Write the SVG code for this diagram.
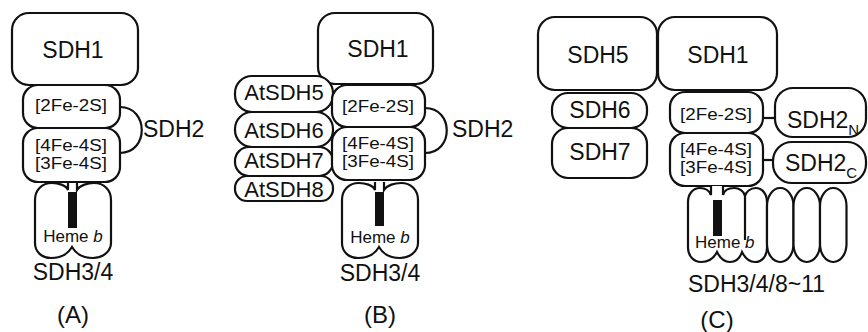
<svg xmlns="http://www.w3.org/2000/svg" width="868" height="332" viewBox="0 0 868 332">
  <defs>
    <style>
      .box { fill: #fff; stroke: #111; stroke-width: 2.2; }
      .line { fill: none; stroke: #111; stroke-width: 2.2; }
      .rod { fill: #111; }
      text { font-family: "Liberation Sans", Arial, sans-serif; fill: #111; }
      .big { font-size: 23px; }
      .mid { font-size: 22px; }
      .fes { font-size: 16px; }
      .heme { font-size: 17px; }
      .cap { font-size: 24px; }
    </style>
    <!-- two-lobed membrane anchor (SDH3/4) with the heme channel on top -->
    <path id="anchor2" d="M 68 182 L 68 190 C 66 185 58 183 52 183 C 42 183 35 190 35 200 L 35 243 C 35 252 42 258 51 258 C 60 258 68 254 72 247 C 76 254 84 258 93 258 C 102 258 111 252 111 243 L 111 200 C 111 190 104 183 94 183 C 88 183 80 185 77 190 L 77 182"/>
  </defs>

  <!-- ===== Panel A ===== -->
  <g id="a-sdh1">
    <rect class="box" x="12" y="13" width="126" height="72" rx="17"/>
    <text class="big" x="73" y="58" text-anchor="middle">SDH1</text>
  </g>
  <g id="a-sdh34">
    <use href="#anchor2" class="box"/>
    <rect class="rod" x="68" y="192" width="9" height="36"/>
    <text class="heme" x="73" y="242" text-anchor="middle">Heme <tspan font-style="italic">b</tspan></text>
    <text class="big" x="73" y="280" text-anchor="middle">SDH3/4</text>
  </g>
  <g id="a-fe2s2">
    <rect class="box" x="23" y="85" width="97" height="43" rx="15"/>
    <text class="fes" x="71" y="111" text-anchor="middle" textLength="72" lengthAdjust="spacingAndGlyphs">[2Fe-2S]</text>
  </g>
  <g id="a-fe4s4">
    <rect class="box" x="23" y="128" width="97" height="54" rx="15"/>
    <text class="fes" x="71" y="151" text-anchor="middle" textLength="72" lengthAdjust="spacingAndGlyphs">[4Fe-4S]</text>
    <text class="fes" x="71" y="169" text-anchor="middle" textLength="72" lengthAdjust="spacingAndGlyphs">[3Fe-4S]</text>
  </g>
  <g id="a-sdh2">
    <text class="big" x="143" y="137">SDH2</text>
  </g>
  <text id="label-a" class="cap" x="73" y="323" text-anchor="middle">(A)</text>

  <!-- ===== Panel B ===== -->
  <g id="b-sdh1">
    <rect class="box" x="318" y="13" width="115" height="71" rx="17"/>
    <text class="big" x="378" y="57" text-anchor="middle">SDH1</text>
  </g>
  <g id="b-atsdh5">
    <rect class="box" x="235" y="76" width="98" height="36" rx="17"/>
    <text class="mid" x="284" y="100" text-anchor="middle">AtSDH5</text>
  </g>
  <g id="b-atsdh6">
    <rect class="box" x="235" y="112" width="98" height="35" rx="17"/>
    <text class="mid" x="284" y="138" text-anchor="middle">AtSDH6</text>
  </g>
  <g id="b-atsdh7">
    <rect class="box" x="235" y="147" width="98" height="29" rx="14"/>
    <text class="mid" x="284" y="168" text-anchor="middle">AtSDH7</text>
  </g>
  <g id="b-atsdh8">
    <rect class="box" x="235" y="176" width="98" height="25" rx="12"/>
    <text class="mid" x="284" y="197" text-anchor="middle">AtSDH8</text>
  </g>
  <g id="b-fe2s2">
    <rect class="box" x="332" y="85" width="93" height="42" rx="15"/>
    <text class="fes" x="378" y="112" text-anchor="middle" textLength="72" lengthAdjust="spacingAndGlyphs">[2Fe-2S]</text>
  </g>
  <g id="b-fe4s4">
    <rect class="box" x="332" y="127" width="93" height="53" rx="15"/>
    <text class="fes" x="378" y="149" text-anchor="middle" textLength="72" lengthAdjust="spacingAndGlyphs">[4Fe-4S]</text>
    <text class="fes" x="378" y="167" text-anchor="middle" textLength="72" lengthAdjust="spacingAndGlyphs">[3Fe-4S]</text>
  </g>
  <g id="b-sdh34" transform="translate(307,0)">
    <use href="#anchor2" class="box"/>
    <rect class="rod" x="68" y="192" width="9" height="34"/>
    <text class="heme" x="73" y="243" text-anchor="middle">Heme <tspan font-style="italic">b</tspan></text>
    <text class="big" x="73" y="281" text-anchor="middle">SDH3/4</text>
  </g>
  <g id="b-sdh2">
    <text class="big" x="452" y="137">SDH2</text>
  </g>
  <text id="label-b" class="cap" x="380" y="323" text-anchor="middle">(B)</text>

  <!-- ===== Panel C ===== -->
  <g id="c-sdh5">
    <rect class="box" x="538" y="17" width="119" height="73" rx="17"/>
    <text class="big" x="598" y="63" text-anchor="middle">SDH5</text>
  </g>
  <g id="c-sdh1">
    <rect class="box" x="658" y="17" width="119" height="73" rx="17"/>
    <text class="big" x="718" y="63" text-anchor="middle">SDH1</text>
  </g>
  <g id="c-sdh6">
    <rect class="box" x="552" y="93" width="95" height="35" rx="16"/>
    <text class="big" x="600" y="118" text-anchor="middle">SDH6</text>
  </g>
  <g id="c-sdh7">
    <rect class="box" x="552" y="128" width="95" height="50" rx="16"/>
    <text class="big" x="600" y="160" text-anchor="middle">SDH7</text>
  </g>
  <g id="c-fe2s2">
    <rect class="box" x="670" y="92" width="93" height="41" rx="15"/>
    <text class="fes" x="716" y="120" text-anchor="middle" textLength="72" lengthAdjust="spacingAndGlyphs">[2Fe-2S]</text>
  </g>
  <g id="c-fe4s4">
    <rect class="box" x="670" y="133" width="93" height="53" rx="15"/>
    <text class="fes" x="716" y="155" text-anchor="middle" textLength="72" lengthAdjust="spacingAndGlyphs">[4Fe-4S]</text>
    <text class="fes" x="716" y="173" text-anchor="middle" textLength="72" lengthAdjust="spacingAndGlyphs">[3Fe-4S]</text>
  </g>
  <g id="c-sdh2n">
    <rect class="box" x="775" y="88" width="91" height="49" rx="18"/>
    <text class="big" x="787" y="128">SDH2<tspan font-size="15" dy="7">N</tspan></text>
  </g>
  <g id="c-sdh2c">
    <rect class="box" x="773" y="142" width="93" height="41" rx="19"/>
    <text class="big" x="785" y="171">SDH2<tspan font-size="15" dy="7">C</tspan></text>
  </g>
  <g id="c-anchor">
    <path class="box" d="M 711 186 L 711 195 C 709 190 705 188 700 188 C 693 188 688 194 688 202 L 688 248 C 688 256 694 262 701 262 C 708 262 714 258 717 252 C 720 258 725 262 730 262 C 736 262 740 258 742 252 C 745 258 749 262 755 262 C 762 262 767 256 767 248 L 767 202 C 767 194 762 188 756 188 C 750 188 746 192 745 196 C 744 191 739 188 734 188 C 728 188 724 191 723 195 L 723 186"/>
    <path class="line" d="M 745 196 L 745 240"/>
    <rect class="rod" x="713" y="200" width="9" height="36"/>
    <rect class="box" x="767" y="188" width="26.5" height="74" rx="13" ry="18"/>
    <rect class="box" x="793.5" y="188" width="26.5" height="74" rx="13" ry="18"/>
    <rect class="box" x="820" y="188" width="26.5" height="74" rx="13" ry="18"/>
    <text class="heme" x="695" y="248">Heme <tspan font-style="italic">b</tspan></text>
    <text class="big" x="688" y="292">SDH3/4/8~11</text>
  </g>
  <text id="label-c" class="cap" x="717" y="328" text-anchor="middle">(C)</text>

  <!-- connectors -->
  <g id="connectors">
    <path class="line" d="M 120 107 C 149 107 149 153 120 153"/>
    <path class="line" d="M 425 108 C 454 108 454 153 425 153"/>
    <path class="line" d="M 763 118 L 775 118"/>
    <path class="line" d="M 763 160 L 773 160"/>
  </g>
</svg>
